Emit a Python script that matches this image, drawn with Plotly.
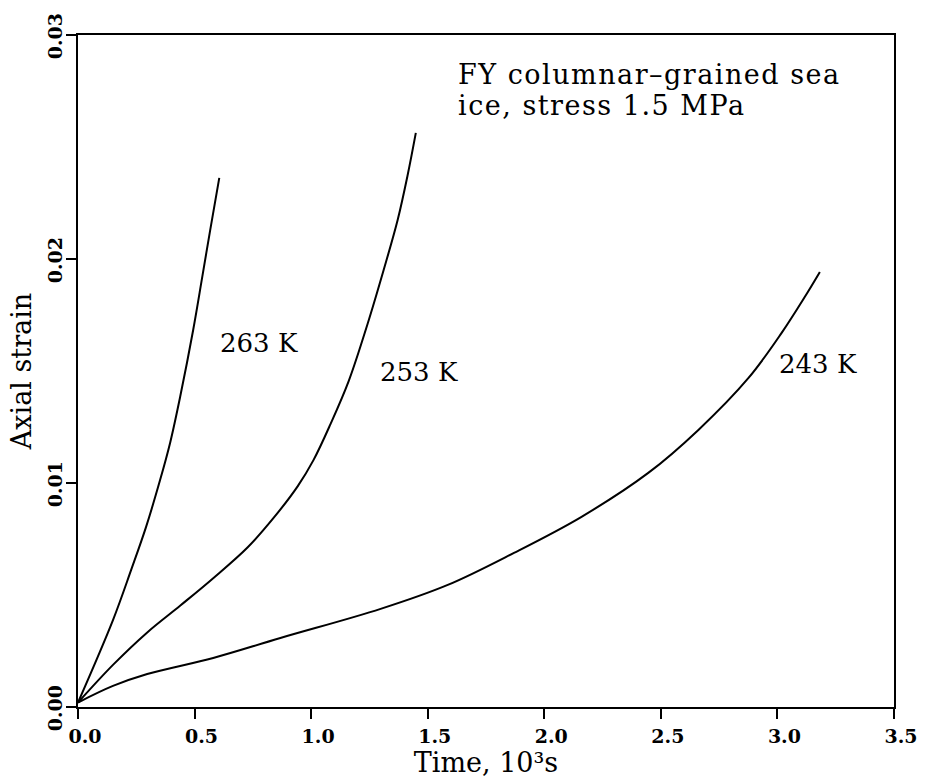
import plotly.graph_objects as go

# Data (time in 10^3 s, axial strain)
t_263 = [0.0, 0.150, 0.228, 0.292, 0.352, 0.395, 0.438, 0.494, 0.533, 0.567, 0.606]
s_263 = [0.0002, 0.00388, 0.00612, 0.00804, 0.01013, 0.01179, 0.01384, 0.01683, 0.01920, 0.02129, 0.02362]

t_253 = [0.0, 0.150, 0.297, 0.439, 0.580, 0.727, 0.838, 0.942, 1.010, 1.083, 1.161, 1.242, 1.311, 1.371, 1.414, 1.449]
s_253 = [0.0002, 0.00188, 0.00333, 0.00453, 0.00575, 0.00712, 0.00843, 0.00985, 0.01102, 0.01263, 0.01455, 0.01710, 0.01951, 0.02174, 0.02375, 0.02563]

t_243 = [0.0, 0.150, 0.297, 0.580, 0.868, 1.298, 1.586, 1.870, 2.158, 2.446, 2.661, 2.876, 3.018, 3.117, 3.182]
s_243 = [0.0002, 0.00094, 0.00147, 0.00219, 0.00308, 0.00438, 0.00545, 0.00688, 0.00848, 0.01045, 0.01237, 0.01469, 0.01670, 0.01830, 0.01942]

curve_labels = ["263 K", "253 K", "243 K"]
label_x = [0.602, 1.285, 2.997]
label_y = [0.01625, 0.01496, 0.01531]

title_lines = ["FY columnar\u2013grained sea", "ice, stress 1.5 MPa"]
title_x = 1.621
title_y = [0.02822, 0.02684]

x_ticks = [0.0, 0.5, 1.0, 1.5, 2.0, 2.5, 3.0, 3.5]
x_ticktext = ["0.0", "0.5", "1.0", "1.5", "2.0", "2.5", "3.0", "3.5"]
y_ticks = [0.0, 0.01, 0.02, 0.03]
y_ticktext = ["0.00", "0.01", "0.02", "0.03"]

FONT = "DejaVu Serif"

fig = go.Figure()
for tt, ss in [(t_263, s_263), (t_253, s_253), (t_243, s_243)]:
    fig.add_trace(go.Scatter(x=tt, y=ss, mode="lines",
                             line=dict(color="black", width=2, shape="spline", smoothing=1.0),
                             showlegend=False, hoverinfo="skip"))

for txt, xx, yy in zip(curve_labels, label_x, label_y):
    fig.add_annotation(x=xx, y=yy, text=txt, showarrow=False, xanchor="left", yanchor="middle",
                       font=dict(family=FONT, size=26, color="black"))

for txt, yy in zip(title_lines, title_y):
    fig.add_annotation(x=title_x, y=yy,
                       text='<span style="letter-spacing:1.5px">' + txt + '</span>',
                       showarrow=False, xanchor="left", yanchor="middle",
                       font=dict(family=FONT, size=27, color="black"))

fig.update_layout(
    width=925, height=780,
    margin=dict(l=78, r=31, t=35, b=73, autoexpand=False),
    paper_bgcolor="white", plot_bgcolor="white",
    font=dict(family=FONT, color="black"),
)
fig.update_xaxes(
    range=[0, 3.5], tickmode="array", tickvals=x_ticks, ticktext=x_ticktext,
    showline=True, linecolor="black", linewidth=2, mirror=True,
    ticks="outside", ticklen=10, tickwidth=2, tickcolor="black",
    showgrid=False, zeroline=False, automargin=False,
    tickfont=dict(family=FONT, size=19, color="black", weight="bold"),
    ticklabelshift=7, ticklabelstandoff=1,
    title=dict(text="Time, 10\u00b3s", font=dict(family=FONT, size=27, color="black"), standoff=6),
)
fig.update_yaxes(
    range=[0, 0.03], tickmode="array", tickvals=y_ticks, ticktext=y_ticktext,
    showline=True, linecolor="black", linewidth=2, mirror=True,
    ticks="outside", ticklen=10, tickwidth=2, tickcolor="black",
    showgrid=False, zeroline=False, tickangle=-90, automargin=False,
    tickfont=dict(family=FONT, size=19, color="black", weight="bold"),
    ticklabelshift=4, ticklabelstandoff=-4,
    title=dict(text="Axial strain", font=dict(family=FONT, size=27, color="black"), standoff=5),
)

fig.write_html("out.html")
